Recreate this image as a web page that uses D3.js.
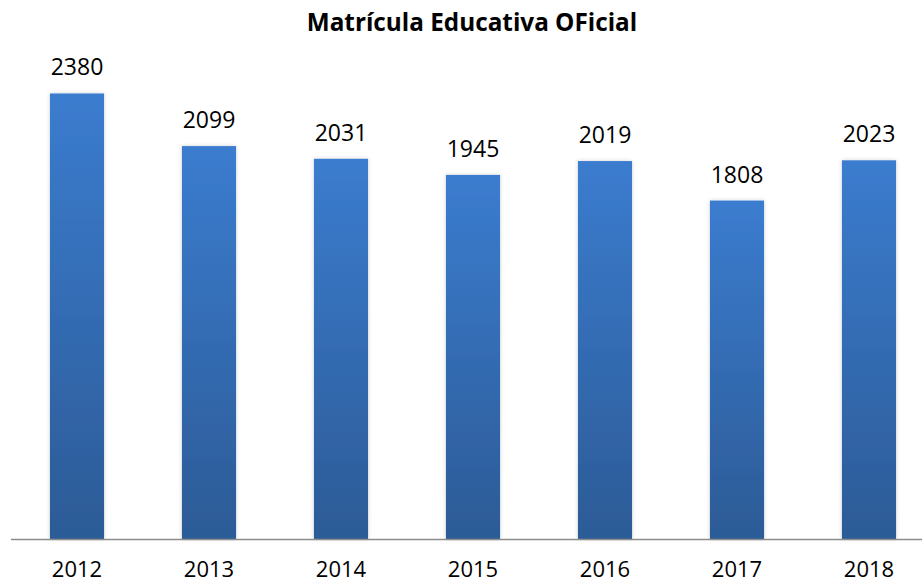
<!DOCTYPE html>
<html><head><meta charset="utf-8">
<script src="https://cdn.jsdelivr.net/npm/d3@7"></script>
<style>html,body{margin:0;padding:0;background:#fff;}svg{display:block;}</style>
</head><body>
<svg id="chart" width="922" height="584"></svg>
<script>
const title = "Matrícula Educativa OFicial";
const years = ["2012","2013","2014","2015","2016","2017","2018"];
const values = [2380, 2099, 2031, 1945, 2019, 1808, 2023];

const W = 922, H = 584;
const svg = d3.select("#chart");
const font = "'Open Sans', 'Liberation Sans', sans-serif";

const x = d3.scaleBand().domain(years).range([11, 935]).padding(0);
const y = d3.scaleLinear().domain([0, 2600]).range([539, 52.3]);
const barW = x.bandwidth() * 0.41;

const defs = svg.append("defs");
const grad = defs.append("linearGradient").attr("id","barGrad")
  .attr("x1",0).attr("y1",0).attr("x2",0).attr("y2",1);
grad.append("stop").attr("offset","0%").attr("stop-color","#3b7ccf");
grad.append("stop").attr("offset","100%").attr("stop-color","#2c5b96");
const f = defs.append("filter").attr("id","shadow").attr("x","-30%").attr("y","-10%").attr("width","160%").attr("height","120%");
f.append("feGaussianBlur").attr("in","SourceAlpha").attr("stdDeviation",2.2).attr("result","b");
f.append("feComponentTransfer").attr("in","b").attr("result","b2")
  .append("feFuncA").attr("type","linear").attr("slope",0.18);
const m = f.append("feMerge");
m.append("feMergeNode").attr("in","b2");
m.append("feMergeNode").attr("in","SourceGraphic");

const data = years.map((yr,i)=>({yr, v: values[i]}));

svg.append("g").selectAll("rect").data(data).join("rect")
  .attr("x", d => x(d.yr) + x.bandwidth()/2 - barW/2)
  .attr("y", d => y(d.v))
  .attr("width", barW)
  .attr("height", d => y(0) - y(d.v))
  .attr("fill", "url(#barGrad)")
  .attr("filter", "url(#shadow)");

// axis
const axis = d3.axisBottom(x).tickSize(0).tickPadding(0);
const ag = svg.append("g").attr("transform", `translate(0,${y(0)})`).call(axis);
ag.select(".domain").attr("d", `M11,0.5H${W}`).attr("stroke","#8c8c8c").attr("stroke-width",1.5);
ag.selectAll(".tick text").attr("y", 38).attr("dy", null)
  .attr("font-family", font).attr("font-size", 22).attr("fill","#000");

// value labels
svg.append("g").selectAll("text").data(data).join("text")
  .attr("x", d => x(d.yr) + x.bandwidth()/2)
  .attr("y", d => y(d.v) - 18)
  .attr("text-anchor","middle")
  .attr("font-family", font).attr("font-size", 23).attr("fill","#000")
  .text(d => d.v);

svg.append("text").attr("x", 472).attr("y", 31).attr("text-anchor","middle")
  .attr("font-family", font).attr("font-weight","bold").attr("font-size", 24.3).attr("fill","#000")
  .text(title);
</script>
</body></html>
